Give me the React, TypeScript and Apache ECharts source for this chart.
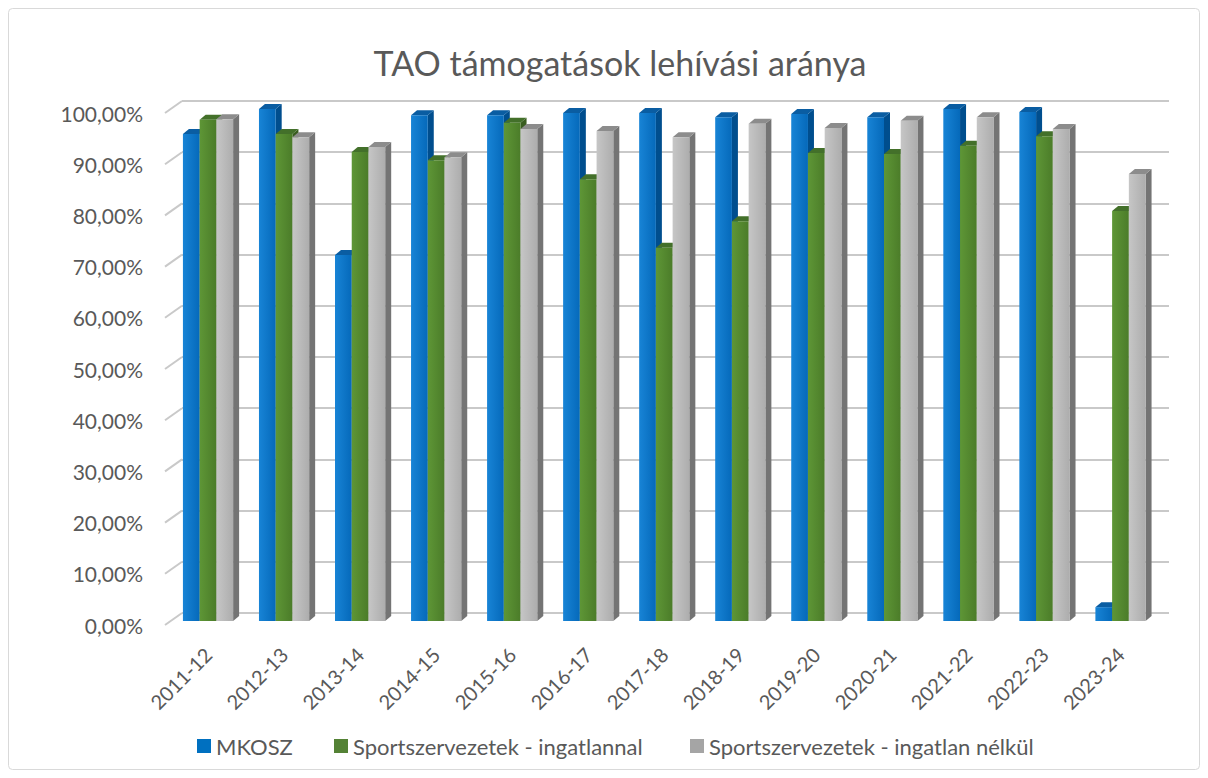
import React, { useEffect, useRef } from "react";
import * as echarts from "echarts";

const categories = [
  "2011-12", "2012-13", "2013-14", "2014-15", "2015-16", "2016-17", "2017-18",
  "2018-19", "2019-20", "2020-21", "2021-22", "2022-23", "2023-24",
];
const mkosz = [0.951, 1.0, 0.715, 0.988, 0.988, 0.992, 0.992, 0.984, 0.99, 0.984, 1.0, 0.994, 0.027];
const ingatlannal = [0.979, 0.951, 0.916, 0.9, 0.973, 0.863, 0.729, 0.781, 0.914, 0.912, 0.928, 0.947, 0.801];
const ingatlanNelkul = [0.98, 0.945, 0.926, 0.906, 0.961, 0.957, 0.945, 0.971, 0.963, 0.977, 0.984, 0.961, 0.873];
const yTicks = [0, 0.1, 0.2, 0.3, 0.4, 0.5, 0.6, 0.7, 0.8, 0.9, 1.0];
const seriesNames = ["MKOSZ", "Sportszervezetek - ingatlannal", "Sportszervezetek - ingatlan nélkül"];

const FONT = "Lato";
const TXT = "#595959";

const palettes = [
  { legend: "#0070c0", front: ["#1884d6", "#0569ba"], side: "#004e8e", top: "#0a5da2" },
  { legend: "#548235", front: ["#5e9636", "#4b7c29"], side: "#395d20", top: "#43702a" },
  { legend: "#a5a5a5", front: ["#c6c6c6", "#adadad"], side: "#747474", top: "#8c8c8c" },
];
const legendLefts = [197, 334, 690];

function makeRender(i: number) {
  const pal = palettes[i];
  return (params: any, api: any) => {
    const idx = api.value(0);
    const v = api.value(1);
    const base = api.coord([idx, 0]);
    const top = api.coord([idx, v]);
    const band = api.size([1, 0])[0];
    const bw = band * 0.22;
    const dx = 6;
    const dy = 5;
    const x0 = base[0] - 1.5 * bw + i * bw;
    const x1 = x0 + bw;
    const yt = top[1];
    const yb = base[1];
    return {
      type: "group",
      children: [
        {
          type: "polygon",
          shape: { points: [[x1, yt], [x1 + dx, yt - dy], [x1 + dx, yb - dy], [x1, yb]] },
          style: { fill: pal.side },
        },
        {
          type: "polygon",
          shape: { points: [[x0, yt], [x0 + dx, yt - dy], [x1 + dx, yt - dy], [x1, yt]] },
          style: { fill: pal.top },
        },
        {
          type: "rect",
          shape: { x: x0, y: yt, width: bw, height: yb - yt },
          style: {
            fill: new echarts.graphic.LinearGradient(0, 0, 1, 0, [
              { offset: 0, color: pal.front[0] },
              { offset: 1, color: pal.front[1] },
            ]),
          },
        },
      ],
    };
  };
}

export default function App() {
  const ref = useRef<HTMLDivElement>(null);
  useEffect(() => {
    if (!ref.current) return;
    const chart = echarts.init(ref.current, undefined, { renderer: "svg" });
    const valueSets = [mkosz, ingatlannal, ingatlanNelkul];
    const option: any = {
      animation: false,
      backgroundColor: "#ffffff",
      textStyle: { fontFamily: FONT },
      title: {
        text: "TAO támogatások lehívási aránya",
        left: 615,
        textAlign: "center",
        top: 40,
        textStyle: { fontFamily: FONT, fontSize: 34, fontWeight: "normal", color: TXT },
      },
      legend: seriesNames.map((n, k) => ({
        data: [{ name: n, itemStyle: { color: palettes[k].legend } }],
        left: legendLefts[k],
        top: 735,
        icon: "rect",
        itemWidth: 14,
        itemHeight: 14,
        padding: 0,
        selectedMode: false,
        textStyle: { fontFamily: FONT, fontSize: 22, color: TXT },
      })),
      graphic: [
        {
          type: "rect",
          shape: { x: 8.5, y: 8.5, width: 1191, height: 761, r: 4 },
          style: { fill: "none", stroke: "#d9d9d9", lineWidth: 1 },
          silent: true,
          z: -10,
        },
      ],
      grid: [
        { left: 170, top: 109, width: 988.5, height: 512 },
        { left: 182, top: 101, width: 987, height: 512 },
        { left: 165, top: 113, width: 10, height: 512 },
      ],
      xAxis: [
        {
          gridIndex: 0,
          type: "category",
          data: categories,
          axisLine: { show: false },
          axisTick: { show: false },
          axisLabel: {
            rotate: 45,
            margin: 30,
            fontFamily: FONT,
            fontSize: 20,
            color: TXT,
            interval: 0,
          },
        },
        { gridIndex: 1, type: "value", min: 0, max: 1, show: false },
        { gridIndex: 2, type: "value", min: 0, max: 1, show: false },
      ],
      yAxis: [
        { gridIndex: 0, type: "value", min: 0, max: 1, interval: 0.1, show: false },
        {
          gridIndex: 1,
          type: "value",
          min: 0,
          max: 1,
          interval: 0.1,
          axisLine: { show: false },
          axisTick: { show: false },
          axisLabel: { show: false },
          splitLine: { show: true, lineStyle: { color: "#c9c9c9", width: 2 } },
        },
        {
          gridIndex: 2,
          type: "value",
          min: 0,
          max: 1,
          interval: 0.1,
          axisLine: { show: false },
          axisTick: { show: false },
          splitLine: { show: false },
          axisLabel: {
            margin: 22,
            fontFamily: FONT,
            fontSize: 21,
            color: TXT,
            formatter: (v: number) => (v * 100).toFixed(2).replace(".", ",") + "%",
          },
        },
      ],
      series: [
        {
          type: "custom",
          name: "__diag",
          xAxisIndex: 1,
          yAxisIndex: 1,
          silent: true,
          clip: false,
          z: 5,
          encode: { x: 0, y: 1 },
          data: yTicks.map((t) => [0, t]),
          renderItem: (params: any, api: any) => {
            const p = api.coord([api.value(0), api.value(1)]);
            return {
              type: "line",
              shape: { x1: p[0] - 17, y1: p[1] + 12, x2: p[0], y2: p[1] },
              style: { stroke: "#c9c9c9", lineWidth: 2, fill: "none" },
            };
          },
        },
        ...seriesNames.map((name, i) => ({
          type: "custom",
          name,
          xAxisIndex: 0,
          yAxisIndex: 0,
          z: 10,
          itemStyle: { color: palettes[i].legend },
          encode: { x: 0, y: 1 },
          data: categories.map((_, k) => [k, valueSets[i][k]]),
          renderItem: makeRender(i),
        })),
      ],
    };
    chart.setOption(option);
    return () => chart.dispose();
  }, []);
  return (
    <div
      ref={ref}
      style={{ position: "fixed", left: 0, top: 0, width: 1208, height: 778 }}
    />
  );
}
